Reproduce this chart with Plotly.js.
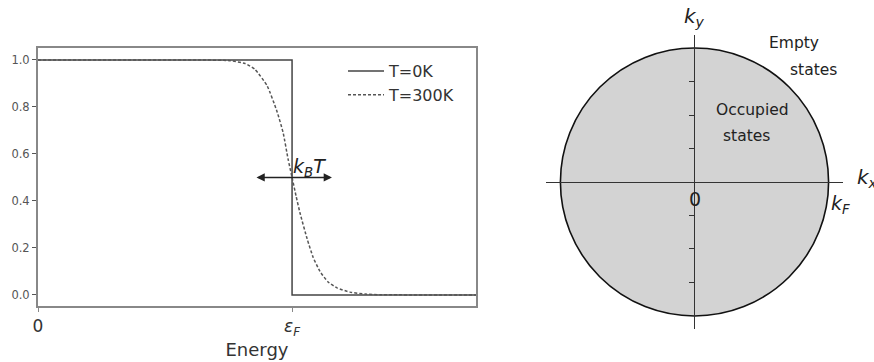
<!DOCTYPE html>
<html>
<head>
<meta charset="utf-8">
<script src="https://cdn.plot.ly/plotly-3.0.1.min.js"></script>
<style>
  html, body { margin: 0; padding: 0; background: #fff; }
  #chart { width: 874px; height: 362px; }
</style>
</head>
<body>
<div id="chart"></div>
<script>
// Fermi-Dirac occupation: energy in units of the Fermi energy
const energyT0 = [0, 1, 1, 1.724];
const occT0 = [1, 1, 0, 0];

const energyT300 = [0, 0.638, 0.756, 0.815, 0.854, 0.902, 0.941, 0.965, 0.984, 1.0,
                    1.016, 1.031, 1.059, 1.083, 1.110, 1.142, 1.177, 1.228, 1.287, 1.346, 1.724];
const occT300 = [1, 1, 0.997, 0.985, 0.96, 0.89, 0.78, 0.69, 0.58, 0.5,
                 0.42, 0.35, 0.24, 0.16, 0.10, 0.055, 0.03, 0.012, 0.004, 0.001, 0];

const seriesNames = ['T=0K', 'T=300K'];
const yTickVals = [0, 0.2, 0.4, 0.6, 0.8, 1.0];
const yTickText = ['0.0', '0.2', '0.4', '0.6', '0.8', '1.0'];
const xTickVals = [0, 1];
const xTickText = ['0', '<i>ε</i><sub><i>F</i></sub>'];

// thermal width marker kBT around the Fermi level
const kbtLeft = 0.854;
const kbtRight = 1.157;
const kbtLevel = 0.5;

// Fermi circle in k-space
const kF = 4;
const kTickVals = [-3, -2, -1, 1, 2, 3];

const FONT = 'DejaVu Sans, sans-serif';
const W = 874, H = 362;
const px = v => v / W;
const py = v => 1 - v / H;

const traces = [
  {
    x: energyT0, y: occT0, name: seriesNames[0], mode: 'lines',
    line: { color: '#444', width: 1.5 }, xaxis: 'x', yaxis: 'y'
  },
  {
    x: energyT300, y: occT300, name: seriesNames[1], mode: 'lines',
    line: { color: '#555', width: 1.5, dash: '3px,2px', shape: 'spline', smoothing: 0.5 },
    xaxis: 'x', yaxis: 'y'
  }
];

const layout = {
  width: W, height: H,
  margin: { l: 0, r: 0, t: 0, b: 0 },
  paper_bgcolor: '#fff', plot_bgcolor: '#fff',
  font: { family: FONT, color: '#222' },
  showlegend: true,
  legend: {
    x: px(343), y: py(54), xanchor: 'left', yanchor: 'top',
    bgcolor: 'rgba(0,0,0,0)', font: { family: FONT, size: 16, color: '#333' },
    itemwidth: 36
  },
  xaxis: {
    domain: [px(38), px(476)], range: [0, 1.724], anchor: 'y',
    showline: true, mirror: true, linecolor: '#888', linewidth: 2,
    showgrid: false, zeroline: false,
    tickvals: xTickVals, ticktext: xTickText,
    ticks: 'outside', ticklen: 4, tickcolor: '#888',
    tickfont: { family: FONT, size: 17, color: '#333' },
    title: { text: 'Energy', font: { family: FONT, size: 18, color: '#333' }, standoff: 2 }
  },
  yaxis: {
    domain: [py(306), py(48)], range: [-0.047, 1.051], anchor: 'x',
    showline: true, mirror: true, linecolor: '#888', linewidth: 2,
    showgrid: false, zeroline: false,
    tickvals: yTickVals, ticktext: yTickText,
    ticks: 'outside', ticklen: 4, tickcolor: '#555',
    tickfont: { family: FONT, size: 11.5, color: '#555' }
  },
  xaxis2: {
    domain: [px(546), px(843)], range: [-4.43, 4.43], anchor: 'free', position: py(182),
    showline: true, linecolor: '#333', linewidth: 1.2,
    showgrid: false, zeroline: false, showticklabels: false, ticks: ''
  },
  yaxis2: {
    domain: [py(329), py(35)], range: [-4.39, 4.39], anchor: 'free', position: px(694),
    showline: true, linecolor: '#333', linewidth: 1.2,
    showgrid: false, zeroline: false, showticklabels: false,
    tickvals: kTickVals, ticks: 'outside', ticklen: 5, tickcolor: '#333', tickwidth: 1
  },
  shapes: [
    {
      type: 'circle', xref: 'x2', yref: 'y2', x0: -kF, x1: kF, y0: -kF, y1: kF,
      fillcolor: '#d3d3d3', line: { color: '#111', width: 1.6 }, layer: 'below'
    }
  ],
  annotations: [
    {
      xref: 'x', yref: 'y', axref: 'x', ayref: 'y',
      x: kbtRight, y: kbtLevel, ax: kbtLeft, ay: kbtLevel,
      showarrow: true, arrowside: 'end+start', arrowhead: 2, arrowsize: 1.1,
      arrowwidth: 1.5, arrowcolor: '#222', text: ''
    },
    {
      xref: 'paper', yref: 'paper', x: px(291), y: py(168), xanchor: 'left', yanchor: 'middle',
      text: '<i>k</i><sub><i>B</i></sub><i>T</i>', showarrow: false,
      font: { family: FONT, size: 19, color: '#222' }
    },
    {
      xref: 'paper', yref: 'paper', x: px(694), y: py(17), xanchor: 'center', yanchor: 'middle',
      text: '<i>k</i><sub><i>y</i></sub>', showarrow: false,
      font: { family: FONT, size: 20, color: '#222' }
    },
    {
      xref: 'paper', yref: 'paper', x: px(855), y: py(178), xanchor: 'left', yanchor: 'middle',
      text: '<i>k</i><sub><i>x</i></sub>', showarrow: false,
      font: { family: FONT, size: 20, color: '#222' }
    },
    {
      xref: 'paper', yref: 'paper', x: px(695), y: py(199), xanchor: 'center', yanchor: 'middle',
      text: '0', showarrow: false, font: { family: FONT, size: 19, color: '#222' }
    },
    {
      xref: 'paper', yref: 'paper', x: px(829), y: py(204), xanchor: 'left', yanchor: 'middle',
      text: '<i>k</i><sub><i>F</i></sub>', showarrow: false,
      font: { family: FONT, size: 19, color: '#222' }
    },
    {
      xref: 'paper', yref: 'paper', x: px(767), y: py(43), xanchor: 'left', yanchor: 'middle',
      text: 'Empty', showarrow: false, font: { family: FONT, size: 15.5, color: '#222' }
    },
    {
      xref: 'paper', yref: 'paper', x: px(788), y: py(70), xanchor: 'left', yanchor: 'middle',
      text: 'states', showarrow: false, font: { family: FONT, size: 15.5, color: '#222' }
    },
    {
      xref: 'paper', yref: 'paper', x: px(714), y: py(110), xanchor: 'left', yanchor: 'middle',
      text: 'Occupied', showarrow: false, font: { family: FONT, size: 15.5, color: '#222' }
    },
    {
      xref: 'paper', yref: 'paper', x: px(721), y: py(136), xanchor: 'left', yanchor: 'middle',
      text: 'states', showarrow: false, font: { family: FONT, size: 15.5, color: '#222' }
    }
  ]
};

Plotly.newPlot('chart', traces, layout, { staticPlot: true, displayModeBar: false });
</script>
</body>
</html>
